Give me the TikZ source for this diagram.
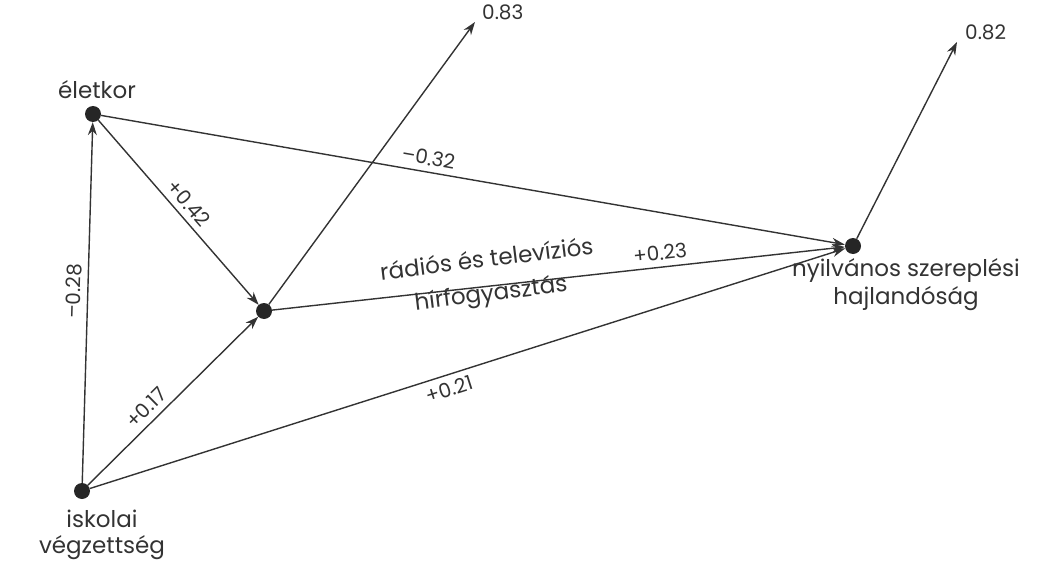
\documentclass[tikz,border=0pt]{standalone}
\usepackage{fontspec}
\setmainfont{Poppins}
\usetikzlibrary{arrows.meta}
\begin{document}
\begin{tikzpicture}[x=1pt,y=-1pt,
  dot/.style={circle,fill=black!85,inner sep=0pt,minimum size=16pt},
  conn/.style={draw=black!80,line width=1.4pt,-{Stealth[length=13pt,width=9pt]}},
  lbl/.style={text=black!80,font=\fontsize{23}{25}\selectfont,align=center,inner sep=0pt},
  coef/.style={text=black!80,font=\fontsize{20}{22}\selectfont,sloped,inner sep=6pt}]
\useasboundingbox (0,0) rectangle (1044,567);
\node[dot] (E) at (93,114) {};
\node[dot] (I) at (82,491) {};
\node[dot] (R) at (264,311) {};
\node[dot] (N) at (853,246) {};
\coordinate (R2) at (475,22);
\coordinate (N2) at (957,42);
\node[lbl] (Elab) at (97,90) {életkor};
\node[lbl,align=center] (Ilab) at (102,535) {iskolai\\[1pt]végzettség};
\node[lbl,rotate=7] (Rlab) at (489,278) {rádiós és televíziós\\[9pt]hírfogyasztás};
\node[lbl] (Nlab) at (906,285) {nyilvános szereplési\\[3pt]hajlandóság};
\node[coef,sloped=false,anchor=west,inner sep=0pt] (R2lab) at (482,12) {0.83};
\node[coef,sloped=false,anchor=west,inner sep=0pt] (N2lab) at (965,32) {0.82};
\draw[conn] (I) -- node[coef,pos=0.53,above] {\textendash0.28} (E);
\draw[conn] (E) -- node[coef,pos=0.5,above] {+0.42} (R);
\draw[conn] (I) -- node[coef,pos=0.4,above] {+0.17} (R);
\draw[conn] (E) -- node[coef,pos=0.437,above] {\textendash0.32} (N);
\draw[conn] (R) -- node[coef,pos=0.68,above] {+0.23} (N);
\draw[conn] (I) -- node[coef,pos=0.47,below] {+0.21} (N);
\draw[conn] (R) -- (R2);
\draw[conn] (N) -- (N2);
\end{tikzpicture}
\end{document}
